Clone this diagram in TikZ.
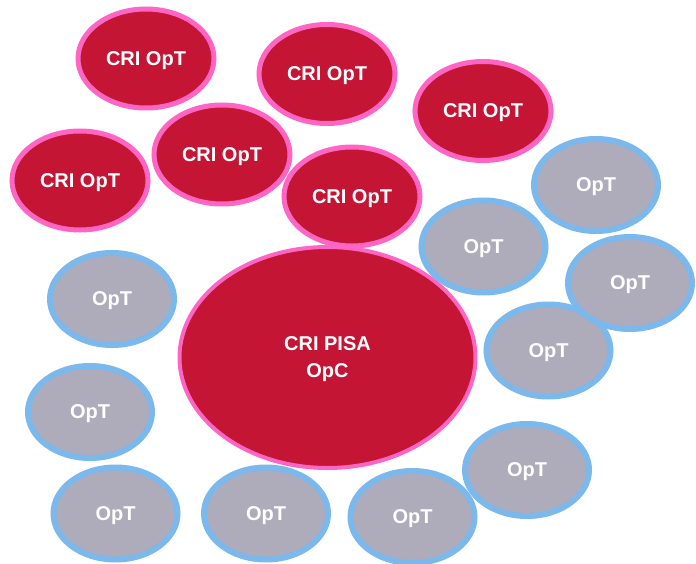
\documentclass[tikz,border=0pt]{standalone}
\usepackage{fontspec}
\setmainfont{Liberation Sans}
\definecolor{crired}{HTML}{C41535}
\definecolor{cripink}{HTML}{FF66C4}
\definecolor{optgray}{HTML}{AEABBA}
\definecolor{optblue}{HTML}{7BB8EC}
\begin{document}
\begin{tikzpicture}[x=1pt,y=-1pt,
  redell/.style={draw=cripink,fill=crired,line width=5pt},
  grayell/.style={draw=optblue,fill=optgray,line width=6pt},
  lbl/.style={text=white,font=\bfseries\fontsize{20}{27}\selectfont,align=center,yshift=-2pt}]
\useasboundingbox (0,0) rectangle (696,564);
% red ellipses
\foreach \n/\cx/\cy in {r1/146/58.5, r2/327/74, r3/483/111, r5/80/180.5, r4/222/154.5, r6/352/196.5}{
  \draw[redell] (\cx,\cy) ellipse [x radius=68, y radius=49.5];
  \node[lbl] (\n) at (\cx,\cy) {CRI OpT};
}
% big ellipse
\draw[cripink,fill=crired,line width=4pt] (327.5,357.5) ellipse [x radius=148, y radius=110.5];
\node[lbl,yshift=-1pt] (big) at (327.5,356) {CRI PISA\\OpC};
% gray ellipses
\foreach \n/\cx/\cy in {g1/596/185, g2/483.5/246.5, g4/548.5/350.5, g3/630/283, g5/112/299, g6/90/412, g7/115.5/513.5, g8/266/513.5, g9/412.5/517, g10/527/470}{
  \draw[grayell] (\cx,\cy) ellipse [x radius=62, y radius=46];
  \node[lbl] (\n) at (\cx,\cy) {OpT};
}
\end{tikzpicture}
\end{document}
